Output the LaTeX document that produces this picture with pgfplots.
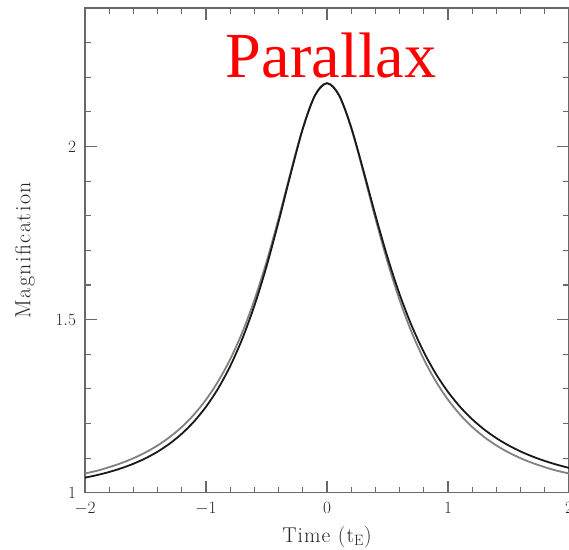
\documentclass[border=0pt]{standalone}
\usepackage{pgfplots}
\pgfplotsset{compat=1.18}
\usepackage{fontspec}
\setmainfont{Latin Modern Roman}
\newfontfamily\timesfont{Liberation Serif}
\definecolor{axgray}{RGB}{105,105,105}
\definecolor{curvegray}{RGB}{125,132,122}
\definecolor{curveblack}{RGB}{25,25,25}
\begin{document}
\begin{tikzpicture}
\begin{axis}[
  scale only axis, width=484bp, height=484.7bp,
  xmin=-2, xmax=2, ymin=1, ymax=2.4,
  xtick={-2,-1,0,1,2}, ytick={1,1.5,2},
  minor xtick={-1.8,-1.6,-1.4,-1.2,-0.8,-0.6,-0.4,-0.2,0.2,0.4,0.6,0.8,1.2,1.4,1.6,1.8},
  minor ytick={1.1,1.2,1.3,1.4,1.6,1.7,1.8,1.9,2.1,2.2,2.3},
  tick align=inside, major tick length=12bp, minor tick length=6bp,
  axis line style={axgray, line width=1.4bp},
  every tick/.style={axgray, line width=1.1bp},
  tick label style={font=\fontsize{16.5}{16.5}\selectfont, text=black!85},
  xticklabel style={yshift=-6.5bp},
  yticklabel style={xshift=-5.5bp},
]
\addplot[curvegray, line width=1.8bp, smooth] coordinates {
(-2.0,1.05548) (-1.9,1.06349) (-1.8,1.07378) (-1.7,1.08555) (-1.6,1.09956)
(-1.5,1.11631) (-1.4,1.13642) (-1.3,1.16065) (-1.2,1.18994) (-1.1,1.22547)
(-1.0,1.26867) (-0.9,1.32128) (-0.8,1.38533) (-0.7,1.46300) (-0.6,1.55641)
(-0.5,1.66667) (-0.4,1.79228) (-0.3,1.92633) (-0.25,1.99202) (-0.2,2.05309) (-0.15,2.10611)
(-0.1,2.14742) (-0.05,2.17376) (0,2.18282) (0.05,2.17376) (0.1,2.14742)
(0.15,2.10611) (0.2,2.05309) (0.25,1.99202) (0.3,1.92633) (0.4,1.79228) (0.5,1.66667)
(0.6,1.55641) (0.7,1.46300) (0.8,1.38533) (0.9,1.32128) (1.0,1.26867)
(1.1,1.22547) (1.2,1.18994) (1.3,1.16065) (1.4,1.13642) (1.5,1.11631)
(1.6,1.09956) (1.7,1.08555) (1.8,1.07378) (1.9,1.06349) (2.0,1.05548)
};
\addplot[curveblack, line width=1.8bp, smooth] coordinates {
(-2.0,1.04347) (-1.9,1.05093) (-1.8,1.05987) (-1.7,1.07064) (-1.6,1.08363)
(-1.5,1.09937) (-1.4,1.11850) (-1.3,1.14182) (-1.2,1.17034) (-1.1,1.20527)
(-1.0,1.24818) (-0.9,1.30090) (-0.8,1.36556) (-0.7,1.44459) (-0.6,1.54013)
(-0.5,1.65343) (-0.4,1.78284) (-0.3,1.92091) (-0.2,2.05104) (-0.1,2.14711)
(0,2.18282) (0.1,2.14773) (0.2,2.05516) (0.3,1.93176) (0.4,1.80178)
(0.5,1.68010) (0.6,1.57312) (0.7,1.48218) (0.8,1.40618) (0.9,1.34317)
(1.0,1.29106) (1.1,1.24796) (1.2,1.21218) (1.3,1.18241) (1.4,1.15755)
(1.5,1.13670) (1.6,1.11913) (1.7,1.10428) (1.8,1.09165) (1.9,1.08089)
(2.0,1.07168)
};
\node[font=\timesfont\fontsize{64.5}{64.5}\selectfont, text=red, anchor=base, inner sep=0pt] at (axis cs:0.035,2.2) {Parallax};
\coordinate (W) at (rel axis cs:0,0.5);
\coordinate (S) at (rel axis cs:0.5,0);
\coordinate (SW) at (rel axis cs:0,0);
\coordinate (NE) at (rel axis cs:1,1);
\end{axis}
\node[rotate=90, text=black!85, font=\fontsize{22}{22}\selectfont\addfontfeatures{LetterSpace=7}] at ([xshift=-60bp]W) {Magnification};
\node[anchor=base, inner sep=0pt, text=black!85, font=\fontsize{21.5}{22}\selectfont\addfontfeatures{LetterSpace=5}] at ([yshift=-50bp]S) {Time (t$_{\mathrm{E}}$)};
\pgfresetboundingbox
\path[use as bounding box] ([shift={(-85bp,-56.3bp)}]SW) rectangle ([shift={(0bp,8bp)}]NE);
\end{tikzpicture}
\end{document}
